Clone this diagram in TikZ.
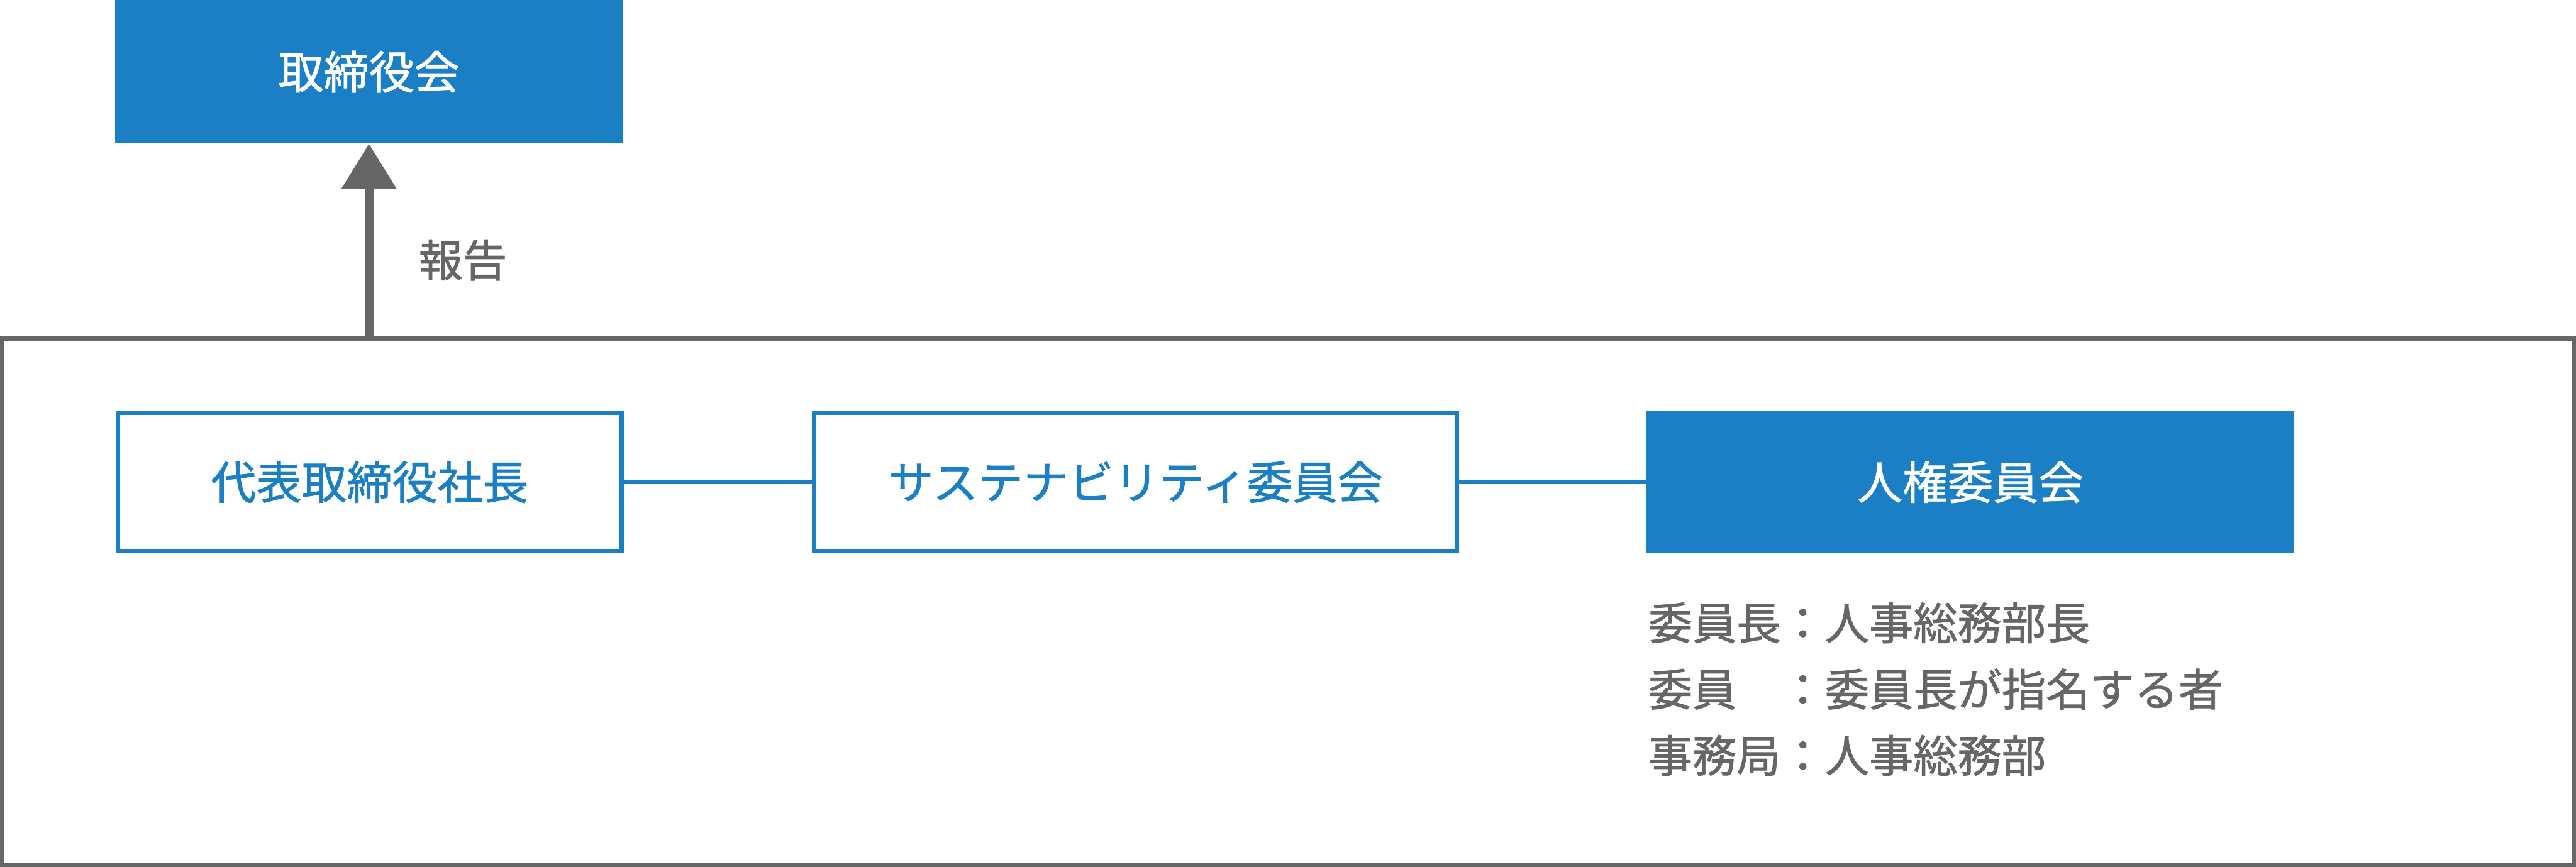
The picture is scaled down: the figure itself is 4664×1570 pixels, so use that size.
\documentclass[tikz,border=0pt]{standalone}
\usepackage{fontspec}
\setmainfont{Noto Sans CJK JP}[BoldFont={Noto Sans CJK JP}, BoldFeatures={FakeBold=1.2}]
\usetikzlibrary{arrows.meta}
\definecolor{cblue}{RGB}{27,127,197}
\definecolor{cgray}{RGB}{102,102,102}
\tikzset{
  filledbox/.style={rectangle, fill=cblue, text=white, inner sep=0pt, font=\fontsize{82}{98}\selectfont\bfseries},
  linebox/.style={rectangle, draw=cblue, line width=8pt, fill=white, text=cblue, inner sep=0pt, font=\fontsize{82}{98}\selectfont\bfseries},
  link/.style={draw=cblue, line width=8pt},
  note/.style={text=cgray, inner sep=0pt, anchor=west, font=\fontsize{80}{96}\selectfont\bfseries},
}
\begin{document}
\begin{tikzpicture}[x=1pt,y=-1pt]
\useasboundingbox (0,0) rectangle (4664,1570);
\node[rectangle, draw=cgray, line width=8pt, minimum width=4656pt, minimum height=953pt, inner sep=0pt] (frame) at (2332,1089.5) {};
\node[filledbox, minimum width=920pt, minimum height=260pt] (board) at (668,130) {取締役会};
\node[linebox, minimum width=912pt, minimum height=250pt] (pres) at (669,873) {代表取締役社長};
\node[linebox, minimum width=1164pt, minimum height=250pt] (sus) at (2056,873) {サステナビリティ委員会};
\node[filledbox, minimum width=1173pt, minimum height=258pt] (hr) at (3567.5,873) {人権委員会};
\draw[link] (pres.east) -- (sus.west);
\draw[link] (sus.east) -- (hr.west);
\draw[draw=cgray, line width=16pt, -{Triangle[width=96pt,length=82pt]}] (frame.north -| board.south) -- (board.south);
\node[note] (rep) at (758,471) {報告};
\node[note] (n1) at (2984,1128) {委員長：人事総務部長};
\node[note] (n2) at (2984,1248) {委員　：委員長が指名する者};
\node[note] (n3) at (2984,1368) {事務局：人事総務部};
\end{tikzpicture}
\end{document}
